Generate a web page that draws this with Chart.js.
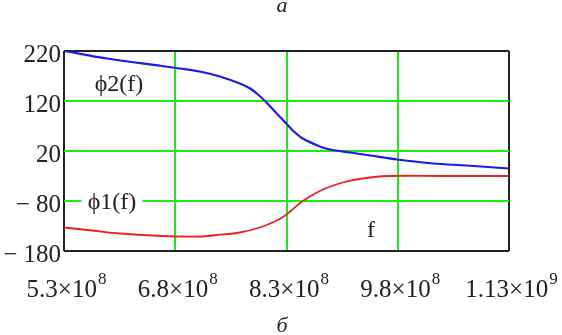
<!DOCTYPE html>
<html>
<head>
<meta charset="utf-8">
<script src="https://cdn.jsdelivr.net/npm/chart.js@4/dist/chart.umd.min.js"></script>
<style>
  html, body { margin: 0; padding: 0; background: #fff; }
  #wrap { position: relative; width: 562px; height: 335px; }
</style>
</head>
<body>
<div id="wrap"><canvas id="chart" width="562" height="335"></canvas></div>
<script>
// frequency in units of 1e8 Hz, phase in degrees
const phi2Freq = [5.30, 5.88, 6.62, 6.86, 7.13, 7.40, 7.67, 7.81, 7.90, 8.01, 8.15, 8.29, 8.40, 8.52, 8.75, 8.89, 9.16, 9.43, 9.79, 10.28, 10.73, 11.30];
const phi2Deg  = [220, 205, 190, 185, 179, 169, 155, 145, 135, 120, 98, 76, 59, 45, 29, 23, 17, 11, 3, -5, -9, -15];

const phi1Freq = [5.30, 5.68, 6.06, 6.62, 7.13, 7.36, 7.67, 7.94, 8.17, 8.29, 8.35, 8.52, 8.79, 9.06, 9.33, 9.66, 10.40, 11.30];
const phi1Deg  = [-133, -139, -145, -150, -151, -148, -143, -133, -119, -108, -101, -80, -57, -43, -35, -30, -30, -30];

const xTicks = [5.3, 6.8, 8.3, 9.8, 11.3];
const xTickBase = ['5.3×10', '6.8×10', '8.3×10', '9.8×10', '1.13×10'];
const xTickExp  = ['8', '8', '8', '8', '9'];
const yTicks = [-180, -80, 20, 120, 220];

const SERIF = '"Liberation Serif", "Times New Roman", serif';
const GREEN = '#14ee14';

const pts = (xs, ys) => xs.map((x, i) => ({ x: x * 1e8, y: ys[i] }));

const edgeColor = (ctx, ticks) => {
  const v = ctx.tick ? ctx.tick.value : null;
  return (v === ticks[0] || v === ticks[ticks.length - 1]) ? '#222' : GREEN;
};

/* x labels with raised exponent, captions, and the а/б marks */
const annot = {
  id: 'annot',
  afterDraw(chart) {
    const { ctx, scales: { x, y } } = chart;
    ctx.save();
    ctx.fillStyle = '#222';
    ctx.textBaseline = 'alphabetic';
    xTicks.forEach((t, i) => {
      const px = x.getPixelForValue(t * 1e8);
      ctx.font = `25px ${SERIF}`;
      const w1 = ctx.measureText(xTickBase[i]).width;
      ctx.font = `17px ${SERIF}`;
      const w2 = ctx.measureText(xTickExp[i]).width;
      const left = px - (w1 + w2) / 2 + 2;
      ctx.font = `25px ${SERIF}`;
      ctx.textAlign = 'left';
      ctx.fillText(xTickBase[i], left, 297);
      ctx.font = `17px ${SERIF}`;
      ctx.fillText(xTickExp[i], left + w1 + 1, 284);
    });

    // curve captions
    ctx.font = `24px ${SERIF}`;
    ctx.textAlign = 'center';
    ctx.textBaseline = 'middle';
    const c1x = 112, c1y = y.getPixelForValue(-80);
    const w = ctx.measureText('ϕ1(f)').width;
    ctx.fillStyle = '#fff';
    ctx.fillRect(c1x - w / 2 - 6, c1y - 3, w + 12, 6);
    ctx.fillStyle = '#222';
    ctx.fillText('ϕ1(f)', c1x, c1y + 2);
    ctx.fillText('ϕ2(f)', 119, 85);
    ctx.fillText('f', 371, 231);

    ctx.font = `italic 22px ${SERIF}`;
    ctx.fillText('а', 282, 6);
    ctx.fillText('б', 282, 326);
    ctx.restore();
  }
};

new Chart(document.getElementById('chart'), {
  type: 'line',
  data: {
    datasets: [
      {
        label: 'ϕ2(f)',
        data: pts(phi2Freq, phi2Deg),
        borderColor: '#1a1aee',
        borderWidth: 2.2,
        pointRadius: 0,
        tension: 0.35,
      },
      {
        label: 'ϕ1(f)',
        data: pts(phi1Freq, phi1Deg),
        borderColor: '#f02020',
        borderWidth: 1.8,
        pointRadius: 0,
        tension: 0.35,
      },
    ],
  },
  options: {
    responsive: false,
    animation: false,
    layout: { padding: { top: 51, right: 53, bottom: 84, left: 0 } },
    plugins: { legend: { display: false }, tooltip: { enabled: false } },
    scales: {
      x: {
        type: 'linear',
        min: 5.3e8,
        max: 11.3e8,
        afterBuildTicks: s => { s.ticks = xTicks.map(v => ({ value: v * 1e8 })); },
        ticks: { display: false },
        border: { display: false },
        grid: {
          drawTicks: false,
          lineWidth: 2,
          color: ctx => edgeColor(ctx, xTicks.map(v => v * 1e8)),
        },
        afterFit: s => { s.height = 0; },
      },
      y: {
        min: -180,
        max: 220,
        afterBuildTicks: s => { s.ticks = yTicks.map(v => ({ value: v })); },
        ticks: {
          padding: 3,
          labelOffset: 4,
          color: '#222',
          font: { family: SERIF, size: 25 },
          callback: v => v < 0 ? '\u2212 ' + Math.abs(v) : String(v),
        },
        border: { display: false },
        grid: {
          drawTicks: false,
          lineWidth: 2,
          color: ctx => edgeColor(ctx, yTicks),
        },
        afterFit: s => { s.width = 64; },
      },
    },
  },
  plugins: [annot],
});
</script>
</body>
</html>
